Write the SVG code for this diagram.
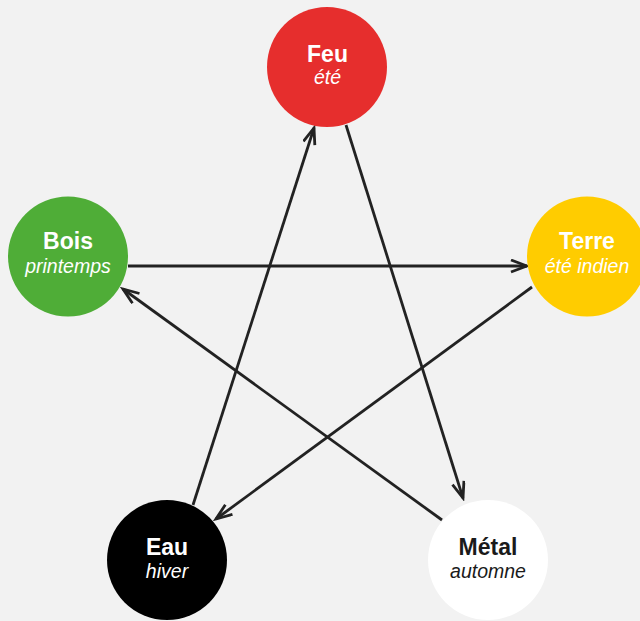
<svg xmlns="http://www.w3.org/2000/svg" width="640" height="621" viewBox="0 0 640 621">
<defs>
<style>
.t{font-family:"Liberation Sans",Arial,sans-serif;font-weight:bold;font-size:23px;text-anchor:middle;fill:#fff}
.s{font-family:"Liberation Sans",Arial,sans-serif;font-style:italic;font-size:19.5px;text-anchor:middle;fill:#fff}
.dark{fill:#1a1a1a}
.e{stroke:#222;stroke-width:2.8;fill:none;marker-end:url(#ah)}
</style>
<marker id="ah" markerUnits="userSpaceOnUse" markerWidth="20" markerHeight="16" refX="17" refY="7" orient="auto">
<path d="M1,1 L17,7 L1,13" fill="none" stroke="#222" stroke-width="2.8" stroke-linejoin="miter"/>
</marker>
</defs>
<rect width="640" height="621" fill="#f2f2f2"/>
<g id="connectors">
<line class="e" x1="128" y1="266" x2="527" y2="266"/>
<line class="e" x1="346" y1="125" x2="463" y2="498"/>
<line class="e" x1="442" y1="520" x2="123" y2="289"/>
<line class="e" x1="532" y1="287" x2="216" y2="519"/>
<line class="e" x1="193" y1="505" x2="314" y2="128"/>
</g>
<g id="feu">
<circle cx="327" cy="67" r="60" fill="#e62e2d"/>
<text class="t" x="327.5" y="62">Feu</text>
<text class="s" x="327.5" y="84">été</text>
</g>
<g id="bois">
<circle cx="68" cy="256.5" r="60" fill="#4fad37"/>
<text class="t" x="68" y="249">Bois</text>
<text class="s" x="68" y="273">printemps</text>
</g>
<g id="terre">
<circle cx="587" cy="256.5" r="60" fill="#ffcc00"/>
<text class="t" x="587" y="249">Terre</text>
<text class="s" x="587" y="273">été indien</text>
</g>
<g id="eau">
<circle cx="167" cy="560" r="60" fill="#000"/>
<text class="t" x="167" y="554.5">Eau</text>
<text class="s" x="167" y="577.5">hiver</text>
</g>
<g id="metal">
<circle cx="488" cy="560" r="60" fill="#fff"/>
<text class="t dark" x="488" y="554.5">Métal</text>
<text class="s dark" x="488" y="577.5">automne</text>
</g>
</svg>
